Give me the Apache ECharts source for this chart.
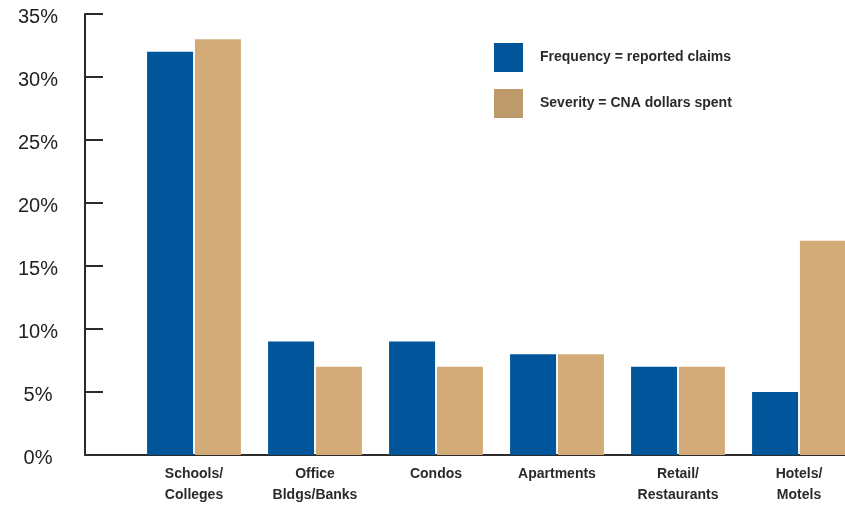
<!DOCTYPE html>
<html>
<head>
<meta charset="utf-8">
<script src="https://cdn.jsdelivr.net/npm/echarts@6/dist/echarts.min.js"></script>
<style>html,body{margin:0;padding:0;background:#fff;}#c{width:845px;height:505px;}</style>
</head>
<body>
<div id="c"></div>
<script>
const categories = ["Schools/\nColleges", "Office\nBldgs/Banks", "Condos", "Apartments", "Retail/\nRestaurants", "Hotels/\nMotels"];
const frequency = [32, 9, 9, 8, 7, 5];
const severity = [33, 7, 7, 8, 7, 17];
const seriesNames = ["Frequency = reported claims", "Severity = CNA dollars spent"];
const yTicks = { min: 0, max: 35, interval: 5 };

const chart = echarts.init(document.getElementById('c'), null, { renderer: 'canvas' });
const labelFont = "'Liberation Sans', Arial, sans-serif";
chart.setOption({
  animation: false,
  backgroundColor: '#fff',
  legend: {
    orient: 'vertical',
    left: 494,
    top: 43,
    padding: 0,
    itemWidth: 29,
    itemHeight: 29,
    itemGap: 17,
    icon: 'rect',
    textStyle: { fontFamily: labelFont, fontWeight: 'bold', fontSize: 14, color: '#2a2a2a', padding: [0, 0, 0, 12] },
    data: [
      { name: seriesNames[0], itemStyle: { color: '#01559b' } },
      { name: seriesNames[1], itemStyle: { color: '#be9a6a' } }
    ]
  },
  grid: [
    { left: 133.5, width: 726, top: 14, bottom: 50, outerBoundsMode: 'none', containLabel: false },
    { left: 85, right: 0, top: 14, bottom: 50, outerBoundsMode: 'none', containLabel: false }
  ],
  xAxis: [
    {
      gridIndex: 0,
      type: 'category',
      data: categories,
      axisLine: { show: false },
      axisTick: { show: false },
      axisLabel: {
        interval: 0,
        margin: 9,
        fontFamily: labelFont,
        fontWeight: 'bold',
        fontSize: 14,
        lineHeight: 21,
        color: '#2a2a2a'
      }
    },
    {
      gridIndex: 1,
      type: 'value',
      min: 0, max: 1,
      axisLine: { show: true, lineStyle: { color: '#2b2b2b', width: 2 } },
      axisTick: { show: false },
      axisLabel: { show: false },
      splitLine: { show: false }
    }
  ],
  yAxis: [
    {
      gridIndex: 0,
      type: 'value',
      min: yTicks.min, max: yTicks.max, interval: yTicks.interval,
      show: false
    },
    {
      gridIndex: 1,
      type: 'value',
      min: yTicks.min, max: yTicks.max, interval: yTicks.interval,
      axisLine: { show: true, lineStyle: { color: '#2b2b2b', width: 2 } },
      axisTick: { show: true, inside: true, length: 18, lineStyle: { color: '#2b2b2b', width: 2 } },
      splitLine: { show: false },
      axisLabel: {
        formatter: '{a|{value}%}',
        align: 'center',
        margin: 47,
        rich: {
          a: {
            fontFamily: "'Liberation Sans', Arial, sans-serif",
            fontSize: 20,
            color: '#222',
            padding: [6, 0, 0, 0]
          }
        }
      }
    }
  ],
  series: [
    {
      name: seriesNames[0],
      type: 'bar',
      xAxisIndex: 0, yAxisIndex: 0,
      data: frequency,
      barWidth: 46,
      barGap: '4%',
      itemStyle: { color: '#01559b' }
    },
    {
      name: seriesNames[1],
      type: 'bar',
      xAxisIndex: 0, yAxisIndex: 0,
      data: severity,
      barWidth: 46,
      barGap: '4%',
      itemStyle: { color: '#d2ab79' }
    }
  ]
});
</script>
</body>
</html>
